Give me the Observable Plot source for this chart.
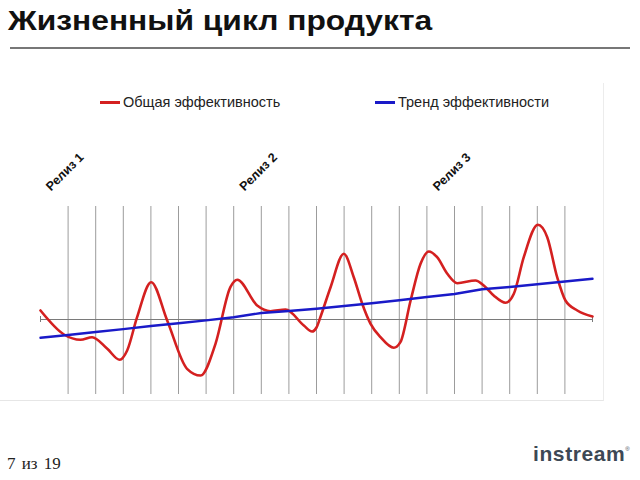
<!DOCTYPE html>
<html>
<head>
<meta charset="utf-8">
<script src="https://cdn.jsdelivr.net/npm/d3@7"></script>
<script src="https://cdn.jsdelivr.net/npm/@observablehq/plot@0.6"></script>
<style>
  html, body { margin: 0; padding: 0; background: #fff; }
  body { width: 640px; height: 480px; position: relative; overflow: hidden; font-family: "Liberation Sans", Arial, sans-serif; }
  #title { position: absolute; left: 8px; top: 5px; font-size: 28px; font-weight: bold; color: #111; white-space: nowrap; transform: scaleX(1.135); transform-origin: left top; }
  #rule { position: absolute; left: 10px; top: 47px; width: 620px; height: 2px; background: #777; }
  #frame { position: absolute; left: 0; top: 83px; width: 603px; height: 317px; border-right: 1px solid #ececec; border-bottom: 1px solid #e6e6e6; }
  #chart { position: absolute; left: 0; top: 50px; }
  .leg { position: absolute; top: 94px; font-size: 14.5px; color: #222; white-space: nowrap; display: flex; align-items: center; }
  .sw { display: inline-block; width: 20px; height: 3px; margin-right: 3px; }
  #page { position: absolute; left: 7px; top: 454px; font-family: "Liberation Serif", "Times New Roman", serif; font-size: 17px; color: #222; word-spacing: 2px; }
  #logo { position: absolute; left: 533px; top: 442px; font-family: "Liberation Sans", Arial, sans-serif; font-size: 21px; font-weight: bold; color: #3d4855; letter-spacing: 0.6px; }
  #logo sup { font-size: 6px; font-weight: normal; vertical-align: top; position: relative; top: 4px; }
</style>
</head>
<body>
<div id="title">Жизненный цикл продукта</div>
<div id="rule"></div>
<div id="frame"></div>
<div id="legend"></div>
<div id="chart"></div>
<div id="page">7 из 19</div>
<div id="logo">instream<sup>®</sup></div>
<script>
// Series names
const seriesNames = ["Общая эффективность", "Тренд эффективности"];
const seriesColors = ["#d42020", "#1a1ac8"];

// Red curve: overall efficiency (x = period index, y = value)
const perfX = [0, 0.85, 1.45, 1.87, 2.42, 2.87, 3.14, 3.5, 4.01, 4.59, 5.31, 5.8, 6.34, 6.88, 7.13, 7.85, 8.33, 8.88, 9.54, 9.84, 10.0, 10.14, 10.51, 10.99, 11.35, 11.65, 11.96, 12.32, 12.8, 13.04, 13.41, 13.77, 14.07, 14.37, 14.74, 15.1, 15.76, 16.06, 16.42, 16.85, 17.15, 17.51, 18.02, 18.36, 18.72, 19.02, 19.45, 20];
const perfY = [9, -15, -20.3, -17.7, -29.3, -40.3, -31, 2.3, 37.3, -1, -49.3, -56, -24.3, 32.3, 39.7, 14, 8.3, 10, -6, -12, -8, 2.3, 32.3, 65.7, 42.3, 16.3, -4.3, -17.7, -28.3, -22.7, 19, 55.7, 68, 62.3, 45.7, 36.3, 39, 34, 24, 16.7, 25.7, 62.3, 94.7, 82.3, 42.3, 19, 9, 3];

// Blue line: efficiency trend
const trendX = [0, 1, 2, 3, 4, 5, 6, 7, 8, 9, 10, 11, 12, 13, 14, 15, 16, 17, 18, 19, 20];
const trendY = [-18.3, -15.5, -12.5, -9.6, -6.5, -3.7, -0.9, 2.3, 6.5, 8.5, 10.7, 13.5, 16.3, 19.3, 22.5, 25.5, 30.2, 32.5, 35.3, 38, 40.7];

// Releases
const releaseLabels = ["Релиз 1", "Релиз 2", "Релиз 3"];
const releaseX = [0.38, 7.39, 14.4];

// Grid
const gridX = [1, 2, 3, 4, 5, 6, 7, 8, 9, 10, 11, 12, 13, 14, 15, 16, 17, 18, 19];
const xDomain = [0, 20];
const yDomain = [-75, 113];

const perf = perfX.map((x, i) => ({x, y: perfY[i]}));
const trend = trendX.map((x, i) => ({x, y: trendY[i]}));
const releases = releaseLabels.map((label, i) => ({label, x: releaseX[i]}));

// legend
const legendLeft = [100, 375];
const legend = document.getElementById("legend");
seriesNames.forEach((name, i) => {
  const d = document.createElement("div");
  d.className = "leg";
  d.style.left = legendLeft[i] + "px";
  d.innerHTML = `<span class="sw" style="background:${seriesColors[i]}"></span>${name}`;
  legend.appendChild(d);
});

const chart = Plot.plot({
  width: 640,
  height: 360,
  marginLeft: 40,
  marginRight: 48,
  marginTop: 156,
  marginBottom: 16,
  style: {background: "transparent", fontFamily: "Liberation Sans, Arial, sans-serif"},
  x: {domain: xDomain, axis: null},
  y: {domain: yDomain, axis: null},
  marks: [
    Plot.ruleX(gridX, {y1: yDomain[0], y2: yDomain[1], stroke: "#9c9c9c", strokeWidth: 1}),
    Plot.ruleY([0], {x1: xDomain[0], x2: xDomain[1], stroke: "#7a7a7a", strokeWidth: 1}),
    Plot.ruleX(xDomain, {y1: -3, y2: 3, stroke: "#7a7a7a", strokeWidth: 1}),
    Plot.line(perf, {x: "x", y: "y", curve: "monotone-x", stroke: seriesColors[0], strokeWidth: 2.6}),
    Plot.line(trend, {x: "x", y: "y", stroke: seriesColors[1], strokeWidth: 2.4}),
    Plot.text(releases, {x: "x", text: "label", frameAnchor: "top", dy: -15, rotate: -45, textAnchor: "start", lineAnchor: "bottom", fontSize: 12.5, fontWeight: "bold", fill: "#111"})
  ]
});
document.getElementById("chart").appendChild(chart);
</script>
</body>
</html>
